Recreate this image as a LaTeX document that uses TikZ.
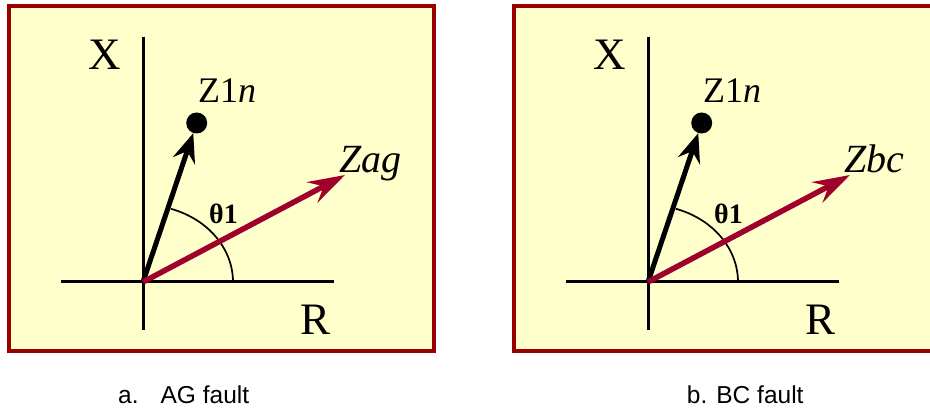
\documentclass[tikz,border=0pt]{standalone}
\usepackage{fontspec}
\setmainfont{Liberation Serif}
\setsansfont{Liberation Sans}
\usetikzlibrary{arrows.meta}
\definecolor{panelfill}{HTML}{FFFFCC}
\definecolor{panelred}{HTML}{990000}
\definecolor{vecred}{HTML}{A0002C}

\tikzset{
  axlab/.style={anchor=base west, inner sep=0pt, font=\fontsize{45}{45}\selectfont},
  veclab/.style={anchor=base west, inner sep=0pt, font=\fontsize{40}{40}\selectfont\itshape},
  caplab/.style={anchor=base west, inner sep=0pt, font=\sffamily\fontsize{24.5}{24.5}\selectfont}
}

\begin{document}
\begin{tikzpicture}[x=1pt, y=-1pt]
  \useasboundingbox (0,0) rectangle (930,411);
  \clip (0,0) rectangle (930,411);

  % two panels, the second one shifted to the right
  \foreach \dx/\vlab/\cx/\sub in {0/Zag/118/{a.\hspace{22pt}AG fault}, 505/Zbc/181.7/{b. BC fault}} {
    \begin{scope}[xshift=\dx pt]
      % Panel frame
      \draw[panelred, line width=4pt, fill=panelfill] (9.3, 6.2) rectangle (433.7, 350.7);

      % Axes R-X
      \draw[line width=3pt] (61, 281.7) -- (334, 281.7);
      \draw[line width=3pt] (143.5, 36.7) -- (143.5, 330);
      \node[axlab] (xlab) at (88.5, 69.3) {X};
      \node[axlab] (rlab) at (300, 335) {R};

      \coordinate (o) at (143, 282);
      \coordinate (ztip) at (345, 175);

      % Line impedance Z1n
      \node[circle, fill=black, inner sep=0pt, minimum size=21pt] (zdot) at (196.7, 123) {};
      \node[anchor=base west, inner sep=0pt, font=\fontsize{36}{36}\selectfont] (zlab) at (198, 102.7) {Z1\textit{n}};
      \draw[line width=5pt, -{Stealth[length=29pt, width=23pt, inset=10pt]}] (o) -- (zdot);

      % Angle theta1
      \draw[line width=1.7pt] ([xshift=90pt]o) arc[start angle=0, end angle=72, x radius=90pt, y radius=77pt];
      \node[anchor=base west, inner sep=0pt, font=\fontsize{28}{28}\selectfont\bfseries] (th) at (209, 224) {θ1};

      % Fault impedance
      \draw[vecred, line width=5.5pt, -{Stealth[length=37pt, width=23pt, inset=13pt]}] (o) -- (ztip);
      \node[veclab] (zf) at (339, 172.7) {\vlab};

      % Caption
      \node[caplab] (cap) at (\cx, 404) {\sub};
    \end{scope}
  }

\end{tikzpicture}
\end{document}
